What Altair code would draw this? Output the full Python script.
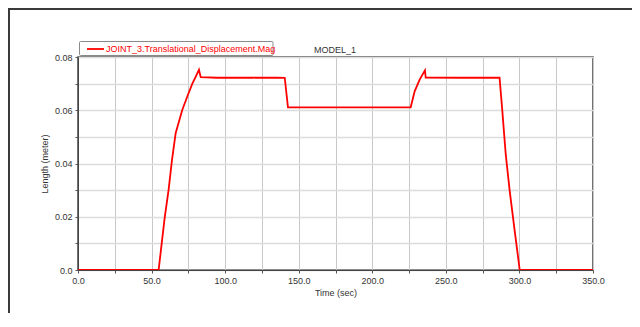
import altair as alt
import pandas as pd

series_name = "JOINT_3.Translational_Displacement.Mag"
model_name = "MODEL_1"
time_sec = [0.0, 54.8, 58.9, 61.6, 63.8, 66.4, 70.9, 74.8, 77.7, 79.3, 82.2, 83.4,
            95.0, 108.0, 112.0, 118.0, 124.0, 130.0, 135.0, 140.5, 142.7,
            160.0, 171.0, 178.0, 185.0, 192.0, 199.0, 206.0, 212.0, 220.0, 226.1,
            228.8, 232.2, 235.8, 236.3, 260.0, 286.5, 288.4, 290.7, 293.4, 296.8,
            300.2, 350.0]
length_m = [0.0, 0.0, 0.0196, 0.0302, 0.0410, 0.0515, 0.0602, 0.0659, 0.0700, 0.0718, 0.0752, 0.0724,
            0.0722, 0.0722, 0.07225, 0.0722, 0.07225, 0.0722, 0.07225, 0.0722, 0.0611,
            0.0611, 0.06105, 0.0611, 0.06105, 0.0611, 0.06105, 0.0611, 0.06105, 0.0611, 0.0611,
            0.0671, 0.0715, 0.0750, 0.0723, 0.0722, 0.0722, 0.0596, 0.0434, 0.0296, 0.0146,
            0.0, 0.0]

x_ticks = [0, 25, 50, 75, 100, 125, 150, 175, 200, 225, 250, 275, 300, 325, 350]
y_ticks = [0.0, 0.01, 0.02, 0.03, 0.04, 0.05, 0.06, 0.07, 0.08]

df = pd.DataFrame({"t": time_sec, "v": length_m, "series": series_name})

FONT = "Liberation Sans"
RED = "#ff0000"

line = alt.Chart(df).mark_line(strokeWidth=1.8, clip=True).encode(
    x=alt.X("t:Q", scale=alt.Scale(domain=[0, 350], nice=False, zero=False),
            axis=alt.Axis(values=x_ticks, title="Time (sec)", labelFlush=False,
                          labelExpr="datum.value % 50 == 0 ? format(datum.value, '.1f') : ''",
                          gridColor="#c8c8c8", gridWidth=1)),
    y=alt.Y("v:Q", scale=alt.Scale(domain=[0, 0.08], nice=False),
            axis=alt.Axis(values=y_ticks, title="Length (meter)", labelFlush=False,
                          labelExpr="round(datum.value*100) % 2 == 1 ? '' : (datum.value == 0 ? '0.0' : format(datum.value, '.2f'))",
                          gridColor="#dcdcdc", gridWidth=1.5)),
    color=alt.Color("series:N", scale=alt.Scale(range=[RED]), legend=None),
)

leg_df = pd.DataFrame({"label": [series_name]})
leg_box = alt.Chart(leg_df).mark_rect(fill="white", stroke="#8a8a8a", strokeWidth=1,
                                      cornerRadius=1).encode(
    x=alt.value(1.5), x2=alt.value(195), y=alt.value(-15.5), y2=alt.value(-1.5))
leg_sym = alt.Chart(leg_df).mark_rule(color=RED, strokeWidth=1.8).encode(
    x=alt.value(9), x2=alt.value(26), y=alt.value(-8))
leg_txt = alt.Chart(leg_df).mark_text(fontSize=9, font=FONT, color=RED, align="left",
                                      baseline="middle").encode(
    text="label:N", x=alt.value(28), y=alt.value(-8))

title_df = pd.DataFrame({"label": [model_name]})
title_text = alt.Chart(title_df).mark_text(
    fontSize=9, font=FONT, color="#333333", align="center", baseline="middle"
).encode(text="label:N", x=alt.value(257), y=alt.value(-7))

frame_left = alt.Chart(df).mark_rule(color="#3a3a3a", strokeWidth=2).encode(
    x=alt.value(-69), y=alt.value(-49), y2=alt.value(256))
frame_top = alt.Chart(df).mark_rule(color="#3a3a3a", strokeWidth=2).encode(
    x=alt.value(-70), x2=alt.value(554), y=alt.value(-48))

chart = alt.layer(frame_left, frame_top, line, leg_box, leg_sym, leg_txt, title_text).properties(
    width=515, height=213,
    autosize=alt.AutoSizeParams(type="none"),
    padding={"left": 70, "top": 49, "right": 39, "bottom": 43},
).configure_view(
    stroke="#444444", strokeWidth=1.5
).configure_axis(
    domainColor="#444444", tickColor="#555555", tickSize=3, labelPadding=3,
    labelFont=FONT, labelFontSize=9, labelColor="#333333",
    titleFont=FONT, titleFontSize=9, titleFontWeight="normal", titleColor="#333333",
).configure_axisY(titlePadding=5).configure_axisX(titlePadding=3)

chart.save("out.html", embed_options={"renderer": "svg", "actions": False})
